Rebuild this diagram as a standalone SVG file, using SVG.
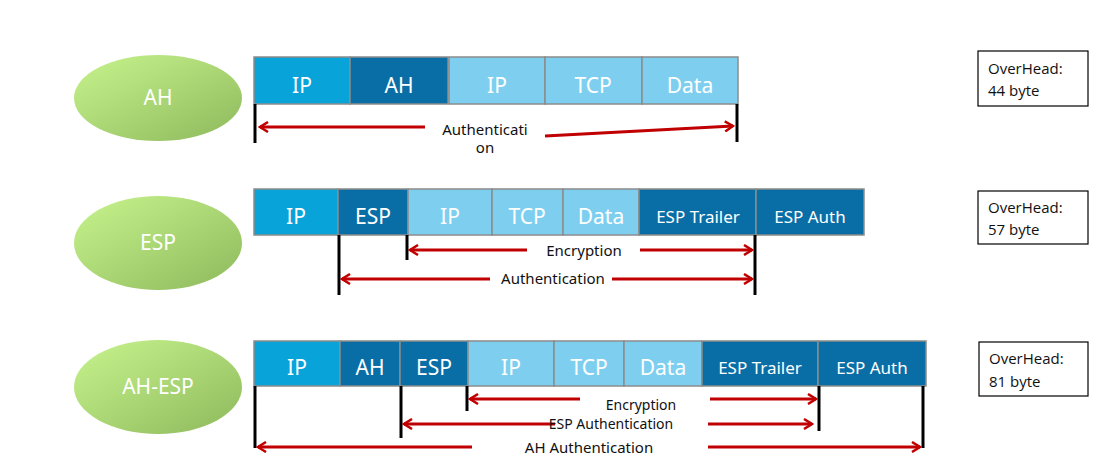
<svg xmlns="http://www.w3.org/2000/svg" width="1103" height="462" viewBox="0 0 1103 462">
<style>
.lbl{font-family:"Noto Sans","Open Sans",sans-serif;font-size:21px;fill:#fff;text-anchor:middle}
.cell{stroke:#8c8c8c;stroke-width:1.5}
.c1{fill:#08a3d9}
.c2{fill:#0a6ea6}
.c3{fill:#7ecfef}
.bar{stroke:#000;stroke-width:3}
.arr{stroke:#c00000;stroke-width:3;fill:none;marker-end:url(#ah)}
.atxt{font-family:"Noto Sans","Open Sans",sans-serif;font-size:15px;fill:#111;text-anchor:middle}
.sm{font-size:14px}
.ov{fill:#fff;stroke:#000;stroke-width:1.2}
.ovt{font-family:"Open Sans","Liberation Sans",sans-serif;font-size:15px;fill:#111}
.ell{fill:url(#g)}
.etxt{font-family:"Noto Sans","Open Sans",sans-serif;font-size:21px;fill:#fff;text-anchor:middle}
</style>
<defs>
<linearGradient id="g" x1="0" y1="0" x2="1" y2="1">
<stop offset="0" stop-color="#c8f48e"/>
<stop offset="1" stop-color="#8db95c"/>
</linearGradient>
<marker id="ah" viewBox="0 0 12 12" refX="10" refY="6" markerWidth="12" markerHeight="12" markerUnits="userSpaceOnUse" orient="auto">
<path d="M2,1 L10,6 L2,11" stroke="#c00000" stroke-width="2.5" fill="none"/>
</marker>
</defs>
<rect width="1103" height="462" fill="#fff"/>

<g id="node-ah">
<ellipse class="ell" cx="158" cy="98" rx="84" ry="43"/>
<text class="etxt" x="158" y="105">AH</text>
</g>
<g id="node-esp">
<ellipse class="ell" cx="158" cy="243" rx="84" ry="47"/>
<text class="etxt" x="158" y="250">ESP</text>
</g>
<g id="node-ahesp">
<ellipse class="ell" cx="158" cy="387" rx="84" ry="47"/>
<text class="etxt" x="158" y="394">AH-ESP</text>
</g>

<g id="row-ah">
<rect class="cell c1" x="254" y="57" width="96" height="47"/><text class="lbl" x="302" y="93">IP</text>
<rect class="cell c2" x="350" y="57" width="98" height="47"/><text class="lbl" x="399" y="93">AH</text>
<rect class="cell c3" x="449" y="57" width="96" height="47"/><text class="lbl" x="497" y="93">IP</text>
<rect class="cell c3" x="545" y="57" width="97" height="47"/><text class="lbl" x="593" y="93">TCP</text>
<rect class="cell c3" x="642" y="57" width="96" height="47"/><text class="lbl" x="690" y="93">Data</text>
</g>

<g id="row-esp">
<rect class="cell c1" x="254" y="189" width="84" height="46"/><text class="lbl" x="296" y="224">IP</text>
<rect class="cell c2" x="338" y="189" width="70" height="46"/><text class="lbl" x="373" y="224">ESP</text>
<rect class="cell c3" x="408" y="189" width="84" height="46"/><text class="lbl" x="450" y="224">IP</text>
<rect class="cell c3" x="492" y="189" width="71" height="46"/><text class="lbl" x="527" y="224">TCP</text>
<rect class="cell c3" x="563" y="189" width="76" height="46"/><text class="lbl" x="601" y="224">Data</text>
<rect class="cell c2" x="639" y="189" width="117" height="46"/><text class="lbl" x="698" y="223" style="font-size:17px">ESP Trailer</text>
<rect class="cell c2" x="756" y="189" width="108" height="46"/><text class="lbl" x="810" y="223" style="font-size:17px">ESP Auth</text>
</g>

<g id="row-ahesp">
<rect class="cell c1" x="254" y="341" width="86" height="45"/><text class="lbl" x="297" y="375">IP</text>
<rect class="cell c2" x="340" y="341" width="60" height="45"/><text class="lbl" x="370" y="375">AH</text>
<rect class="cell c2" x="400" y="341" width="68" height="45"/><text class="lbl" x="434" y="375">ESP</text>
<rect class="cell c3" x="468" y="341" width="86" height="45"/><text class="lbl" x="511" y="375">IP</text>
<rect class="cell c3" x="554" y="341" width="70" height="45"/><text class="lbl" x="589" y="375">TCP</text>
<rect class="cell c3" x="624" y="341" width="78" height="45"/><text class="lbl" x="663" y="375">Data</text>
<rect class="cell c2" x="702" y="341" width="116" height="45"/><text class="lbl" x="760" y="374" style="font-size:17px">ESP Trailer</text>
<rect class="cell c2" x="818" y="341" width="108" height="45"/><text class="lbl" x="872" y="374" style="font-size:17px">ESP Auth</text>
</g>

<g id="overhead">
<rect class="ov" x="978" y="51" width="110" height="55"/>
<text class="ovt" x="988" y="74">OverHead:</text><text class="ovt" x="988" y="96">44 byte</text>
<rect class="ov" x="978" y="191" width="110" height="53"/>
<text class="ovt" x="988" y="213">OverHead:</text><text class="ovt" x="988" y="235">57 byte</text>
<rect class="ov" x="979" y="342" width="109" height="54"/>
<text class="ovt" x="989" y="364">OverHead:</text><text class="ovt" x="989" y="387">81 byte</text>
</g>

<g id="connectors">
<line class="bar" x1="255" y1="104" x2="255" y2="143"/>
<line class="bar" x1="737" y1="104" x2="737" y2="142"/>
<line class="arr" x1="425" y1="127" x2="260" y2="127"/>
<line class="arr" x1="545" y1="136" x2="733" y2="126"/>
<text class="atxt" x="485" y="135">Authenticati</text>
<text class="atxt" x="485" y="153">on</text>

<line class="bar" x1="339" y1="235" x2="339" y2="295"/>
<line class="bar" x1="407" y1="235" x2="407" y2="260"/>
<line class="bar" x1="755" y1="235" x2="755" y2="295"/>
<line class="arr" x1="527" y1="250" x2="410" y2="250"/>
<line class="arr" x1="640" y1="250" x2="752" y2="250"/>
<text class="atxt" x="584" y="256">Encryption</text>
<line class="arr" x1="490" y1="279" x2="342" y2="279"/>
<line class="arr" x1="612" y1="279" x2="752" y2="279"/>
<text class="atxt" x="553" y="284">Authentication</text>

<line class="bar" x1="255" y1="386" x2="255" y2="448"/>
<line class="bar" x1="401" y1="386" x2="401" y2="438"/>
<line class="bar" x1="467" y1="386" x2="467" y2="411"/>
<line class="bar" x1="819" y1="386" x2="819" y2="431"/>
<line class="bar" x1="923" y1="386" x2="923" y2="448"/>
<line class="arr" x1="580" y1="399" x2="470" y2="399"/>
<line class="arr" x1="710" y1="399" x2="816" y2="399"/>
<text class="atxt sm" x="641" y="410">Encryption</text>
<line class="arr" x1="555" y1="424" x2="404" y2="424"/>
<line class="arr" x1="708" y1="424" x2="812" y2="424"/>
<text class="atxt sm" x="611" y="429">ESP Authentication</text>
<line class="arr" x1="472" y1="447" x2="258" y2="447"/>
<line class="arr" x1="708" y1="447" x2="920" y2="447"/>
<text class="atxt" x="589" y="453">AH Authentication</text>
</g>
</svg>
